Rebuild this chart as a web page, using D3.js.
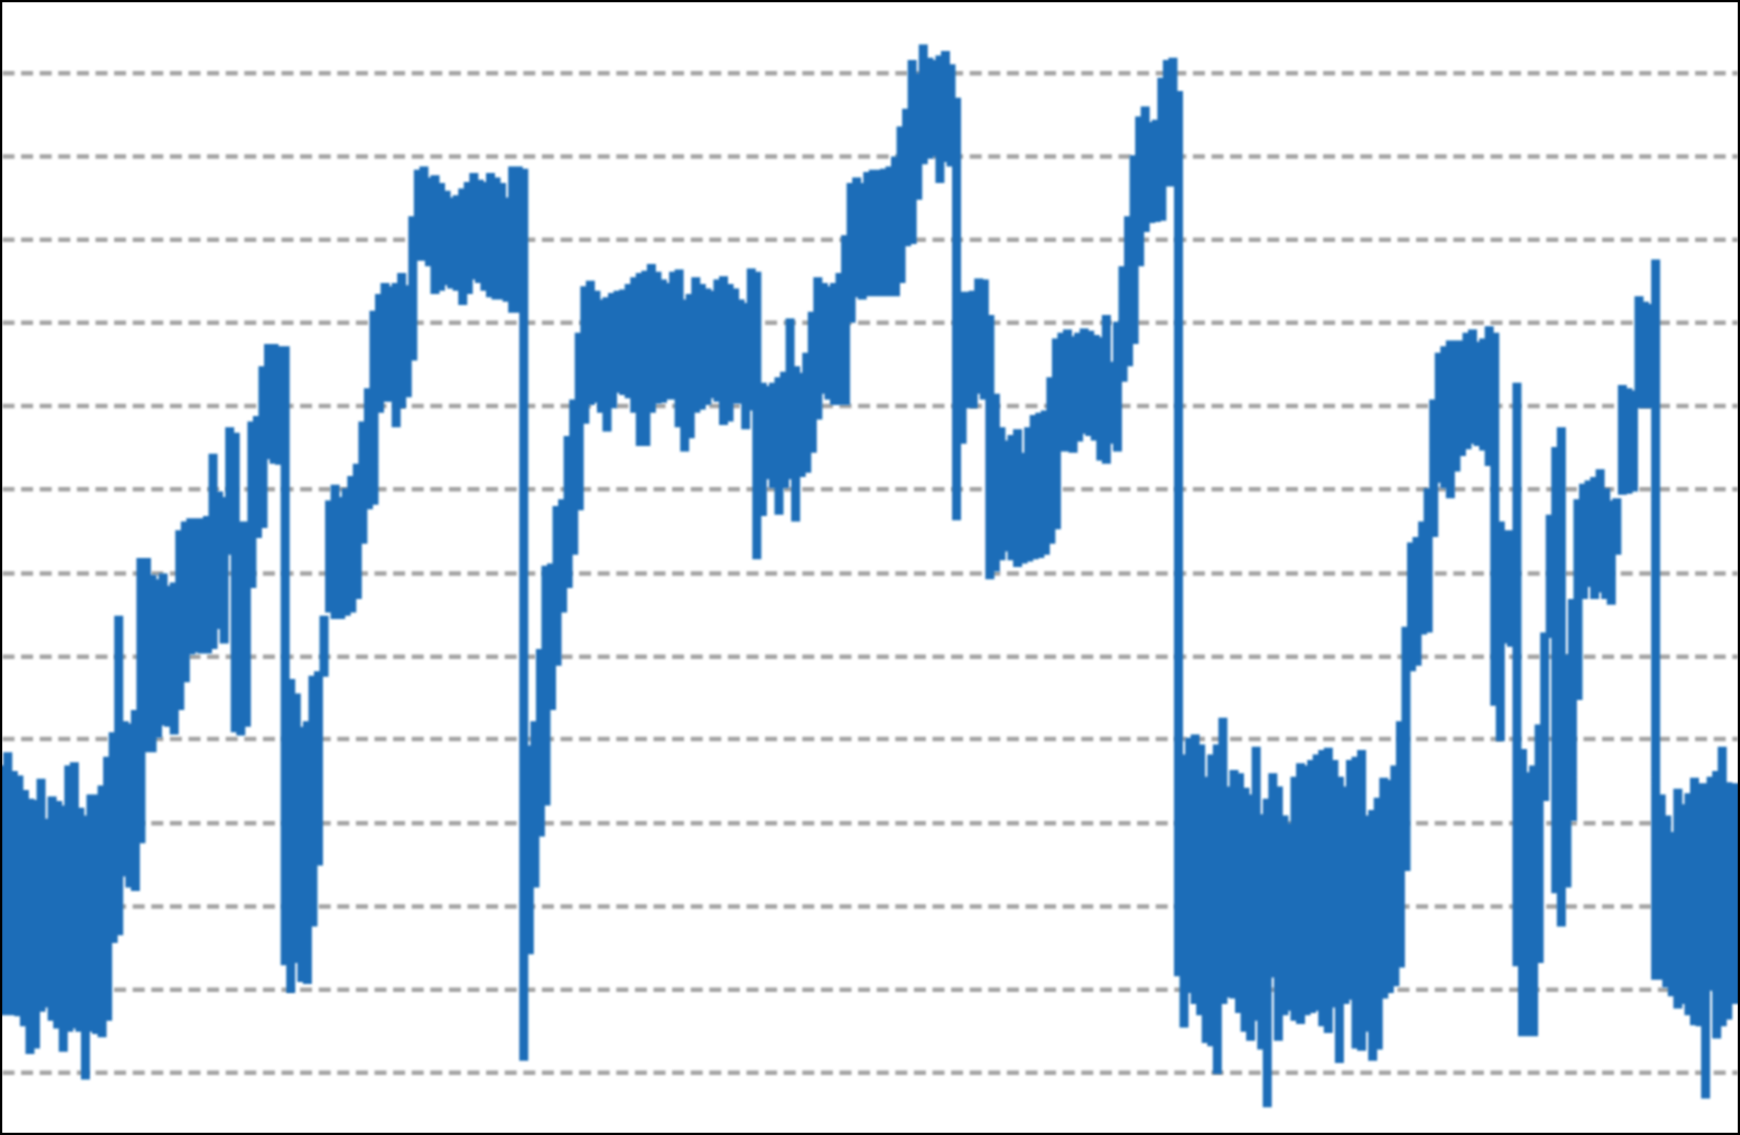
<!DOCTYPE html>
<html>
<head>
<meta charset="utf-8">
<script src="https://cdn.jsdelivr.net/npm/d3@7/dist/d3.min.js"></script>
<style>
html,body{margin:0;padding:0;background:#fff;}
svg{display:block;}
</style>
</head>
<body>
<div id="chart"></div>
<script>
const sampleStart = 2;
const sampleStep = 5;
const gridLevels = [66,141,216,291,366,441,517,592,666,742,817,892,967];
const upperEdge = [
690,678,695,699,712,720,721,702,738,718,722,726,690,687,728,735,716,716,708,682,
660,555,650,652,640,503,503,518,522,517,528,525,478,470,467,467,467,465,409,443,
448,385,390,470,470,380,375,330,310,310,312,312,612,625,655,650,609,605,555,451,
437,448,440,429,418,380,350,280,265,255,258,255,246,257,195,153,150,160,158,165,
172,178,176,170,164,156,162,164,156,160,165,178,150,150,152,672,650,585,510,508,
456,450,393,360,300,258,253,262,270,268,264,262,261,256,250,246,244,238,245,252,
255,245,243,270,265,250,256,260,262,252,249,256,260,270,273,242,245,345,348,345,
340,335,287,330,336,318,281,250,255,258,255,246,212,165,160,165,155,153,153,152,
150,141,114,98,54,66,40,52,54,50,46,58,88,263,263,262,251,252,284,355,
385,397,392,387,408,385,374,372,370,340,305,300,297,303,300,296,298,302,304,284,
326,290,240,195,140,105,96,110,108,70,54,52,82,680,665,662,671,700,680,671,
647,709,694,697,710,716,673,734,720,697,709,735,742,700,688,690,685,680,676,674,
685,700,709,685,682,676,735,730,719,701,703,690,650,565,489,484,470,440,360,318,
312,307,307,307,300,297,308,305,294,300,470,478,478,345,675,696,690,653,570,464,
403,385,590,540,450,436,433,430,423,440,451,449,347,350,352,267,272,274,234,716,
735,750,711,725,715,701,706,706,700,695,673,705,706,706,706
];
const lowerEdge = [
915,915,915,916,925,950,945,912,908,920,927,948,930,927,930,973,930,932,935,920,
850,843,790,800,803,760,678,678,665,654,655,662,640,615,590,588,589,589,585,567,
580,500,660,663,655,530,485,476,414,418,419,870,895,868,885,887,835,780,610,552,
558,558,555,552,540,490,459,455,372,362,362,385,368,358,325,235,235,240,265,262,
257,260,262,275,265,252,255,262,268,270,270,272,282,282,956,860,800,754,726,640,
600,552,530,500,460,382,365,363,372,389,368,354,356,359,372,402,402,372,364,363,
360,360,385,407,395,372,369,365,359,362,383,380,364,364,387,370,504,465,432,440,
464,440,432,470,430,426,408,378,355,360,365,365,365,291,268,270,267,267,267,267,
267,267,255,222,220,180,148,143,141,165,146,150,469,400,368,368,355,360,522,515,
505,497,505,511,508,506,504,503,500,490,477,407,407,408,398,391,393,397,415,418,
400,407,344,330,310,240,209,201,200,199,168,168,880,926,895,905,915,940,943,968,
905,899,900,913,930,938,920,946,998,881,938,915,911,920,923,915,913,911,925,931,
908,958,905,901,945,947,930,956,946,900,895,889,872,785,605,600,572,570,484,435,
440,449,425,411,405,400,402,406,420,636,668,580,583,871,934,934,934,868,722,575,
805,835,800,740,631,540,529,540,534,540,545,500,446,445,443,368,368,368,883,883,
890,898,909,905,915,924,925,990,893,936,925,919,905,905,905
];

const W = 1740, H = 1135;
const x = d3.scaleLinear().domain([0,1568]).range([0,W]);
const y = d3.scaleLinear().domain([0,1023]).range([0,H]);

const svg = d3.select('#chart').append('svg').attr('width',W).attr('height',H);
const defs = svg.append('defs');
const soft = (id,dev)=>defs.append('filter').attr('id',id)
  .attr('filterUnits','userSpaceOnUse').attr('x',0).attr('y',0).attr('width',W).attr('height',H)
  .append('feGaussianBlur').attr('stdDeviation',dev);
soft('softGrid',0.9);
soft('softLine',1);

svg.append('rect').attr('width',W).attr('height',H).attr('fill','#fff');

svg.append('g').attr('class','grid').attr('filter','url(#softGrid)')
  .selectAll('line').data(gridLevels).join('line')
  .attr('x1',2.5).attr('x2',W-2)
  .attr('y1',d=>y(d)).attr('y2',d=>y(d))
  .attr('stroke','#a4a4a4').attr('stroke-width',4.5).attr('stroke-dasharray','12 6.6');

// each sample is its own top-to-bottom stroke (null breaks the path between samples)
const vertices = upperEdge.flatMap((u,i)=>[
  {t:sampleStart+i*sampleStep, v:u},
  {t:sampleStart+i*sampleStep, v:lowerEdge[i]},
  null
]);
const line = d3.line().defined(d=>d).x(d=>x(d.t)).y(d=>y(d.v));

svg.append('path')
  .datum(vertices)
  .attr('class','series')
  .attr('d',line)
  .attr('fill','none')
  .attr('stroke','#1c6db8')
  .attr('stroke-width',9)
  .attr('filter','url(#softLine)');

svg.append('rect').attr('x',1).attr('y',1).attr('width',W-2).attr('height',H-2)
  .attr('fill','none').attr('stroke','#000').attr('stroke-width',2.5);
</script>
</body>
</html>
